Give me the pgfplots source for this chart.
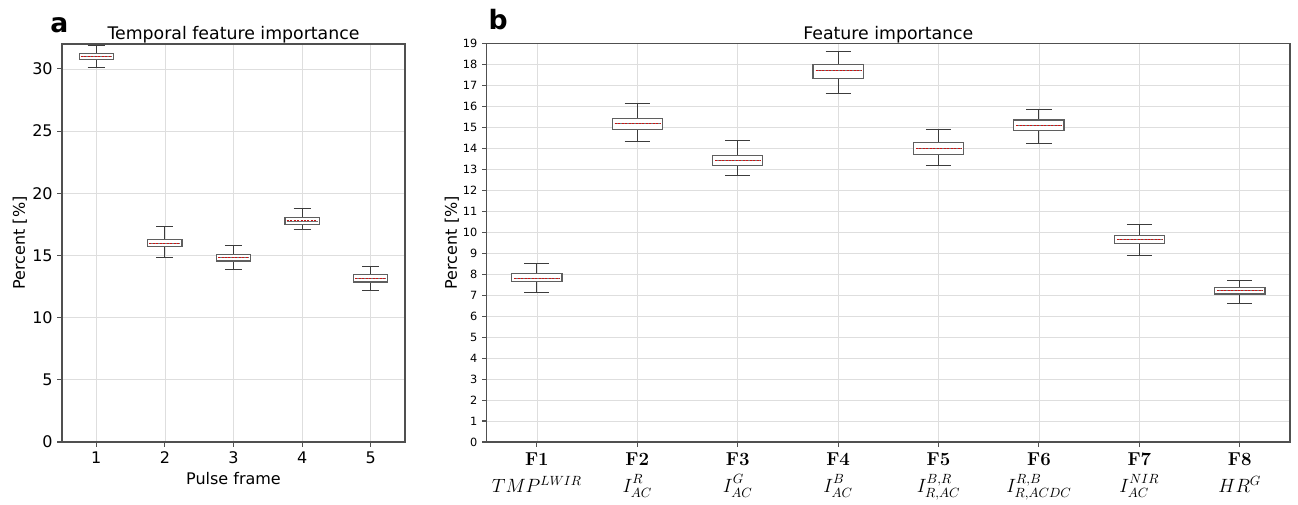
\documentclass[border=0pt]{standalone}
\usepackage{pgfplots}
\pgfplotsset{compat=1.18}
\usepgfplotslibrary{statistics}
\usepackage{fontspec}
\newfontfamily\dejavu{DejaVu Sans}
\definecolor{gridc}{RGB}{222,222,222}
\definecolor{framec}{RGB}{80,80,80}
\definecolor{boxc}{RGB}{95,95,95}
\definecolor{whc}{RGB}{60,60,60}
\definecolor{medred}{RGB}{205,20,20}

\pgfplotsset{
  common/.style={
    scale only axis,
    anchor=south west,
    clip mode=individual,
    grid=major,
    major grid style={gridc, line width=0.5pt},
    axis line style={framec, line width=0.8pt},
    tick style={framec, line width=0.8pt},
    tick align=outside,
    major tick length=3.5pt,
    tick pos=left,
    /pgf/number format/assume math mode=true,
    font=\dejavu,
    label style={font=\dejavu\fontsize{12}{14}\selectfont},
    title style={font=\dejavu\fontsize{13}{15}\selectfont, yshift=-9pt},
    boxplot/draw direction=y,
    boxplot/box extend=0.5,
    boxplot/whisker extend=0.25,
    boxplot/every box/.style={draw=boxc, fill=white, line width=0.9pt},
    boxplot/every whisker/.style={draw=whc, line width=0.8pt},
    boxplot/draw/median/.code={
      \draw[black!55, line width=0.5pt]
        (boxplot box cs:\pgfplotsboxplotvalue{median},0.05) --
        (boxplot box cs:\pgfplotsboxplotvalue{median},0.95);
      \draw[medred, line width=0.9pt, dash pattern=on 1.5pt off 1.1pt]
        (boxplot box cs:\pgfplotsboxplotvalue{median},0.05) --
        (boxplot box cs:\pgfplotsboxplotvalue{median},0.95);
    },
  },
  bx/.style={draw=whc, line width=0.8pt},
}

\begin{document}
\begin{tikzpicture}
\path[use as bounding box] (-46.5pt,-46.5pt) rectangle (927pt,331.5pt);

% ---------- panel a ----------
\begin{axis}[
  common,
  at={(0pt,0pt)},
  width=257.25pt, height=298.5pt,
  xmin=0.5, xmax=5.5, ymin=0, ymax=32,
  xtick={1,2,3,4,5}, ytick={0,5,10,15,20,25,30},
  ticklabel style={font=\dejavu\fontsize{12}{14}\selectfont},
  title={Temporal feature importance},
  xlabel={Pulse frame},
  ylabel={Percent [\%]},
  ylabel style={yshift=-3pt},
]
\addplot[bx, boxplot prepared={draw position=1, lower whisker=30.09, lower quartile=30.73, median=31.0, upper quartile=31.26, upper whisker=31.9}] coordinates {};
\addplot[bx, boxplot prepared={draw position=2, lower whisker=14.86, lower quartile=15.70, median=15.97, upper quartile=16.30, upper whisker=17.32}] coordinates {};
\addplot[bx, boxplot prepared={draw position=3, lower whisker=13.86, lower quartile=14.56, median=14.86, upper quartile=15.10, upper whisker=15.80}] coordinates {};
\addplot[bx, boxplot prepared={draw position=4, lower whisker=17.06, lower quartile=17.51, median=17.78, upper quartile=18.07, upper whisker=18.74}] coordinates {};
\addplot[bx, boxplot prepared={draw position=5, lower whisker=12.20, lower quartile=12.87, median=13.14, upper quartile=13.49, upper whisker=14.13}] coordinates {};
\node[font=\dejavu\bfseries\fontsize{20}{22}\selectfont, anchor=base west, inner sep=0pt] at (rel axis cs:-0.035,1.028) {a};
\end{axis}

% ---------- panel b ----------
\begin{axis}[
  common,
  at={(318.5pt,0pt)},
  width=602.5pt, height=299pt,
  xmin=0.5, xmax=8.5, ymin=0, ymax=19,
  xtick={1,2,3,4,5,6,7,8},
  ytick={0,1,...,19},
  yticklabel style={font=\dejavu\fontsize{8.5}{10}\selectfont},
  xticklabel style={align=center, font=\fontsize{14}{20.5}\selectfont, yshift=-1pt},
  xticklabels={
    {\textbf{F1}\\$TMP^{LWIR}$},
    {\textbf{F2}\\$I^{R\vphantom{,}}_{AC}$},
    {\textbf{F3}\\$I^{G\vphantom{,}}_{AC}$},
    {\textbf{F4}\\$I^{B\vphantom{,}}_{AC}$},
    {\textbf{F5}\\$I^{B,R}_{R,AC}$},
    {\textbf{F6}\\$I^{R,B}_{R,ACDC}$},
    {\textbf{F7}\\$I^{NIR\vphantom{,}}_{AC}$},
    {\textbf{F8}\\$HR^{G}$}
  },
  title={Feature importance},
  ylabel={Percent [\%]},
  ylabel style={yshift=-4pt},
]
\addplot[bx, boxplot prepared={draw position=1, lower whisker=7.13, lower quartile=7.64, median=7.80, upper quartile=8.03, upper whisker=8.50}] coordinates {};
\addplot[bx, boxplot prepared={draw position=2, lower whisker=14.30, lower quartile=14.89, median=15.18, upper quartile=15.43, upper whisker=16.13}] coordinates {};
\addplot[bx, boxplot prepared={draw position=3, lower whisker=12.69, lower quartile=13.19, median=13.43, upper quartile=13.65, upper whisker=14.35}] coordinates {};
\addplot[bx, boxplot prepared={draw position=4, lower whisker=16.60, lower quartile=17.33, median=17.70, upper quartile=17.99, upper whisker=18.59}] coordinates {};
\addplot[bx, boxplot prepared={draw position=5, lower whisker=13.16, lower quartile=13.70, median=14.00, upper quartile=14.26, upper whisker=14.88}] coordinates {};
\addplot[bx, boxplot prepared={draw position=6, lower whisker=14.22, lower quartile=14.84, median=15.08, upper quartile=15.35, upper whisker=15.83}] coordinates {};
\addplot[bx, boxplot prepared={draw position=7, lower whisker=8.89, lower quartile=9.45, median=9.64, upper quartile=9.83, upper whisker=10.35}] coordinates {};
\addplot[bx, boxplot prepared={draw position=8, lower whisker=6.62, lower quartile=7.05, median=7.21, upper quartile=7.35, upper whisker=7.69}] coordinates {};
\node[font=\dejavu\bfseries\fontsize{20}{22}\selectfont, anchor=base west, inner sep=0pt] at (rel axis cs:0.002,1.035) {b};
\end{axis}
\end{tikzpicture}
\end{document}
